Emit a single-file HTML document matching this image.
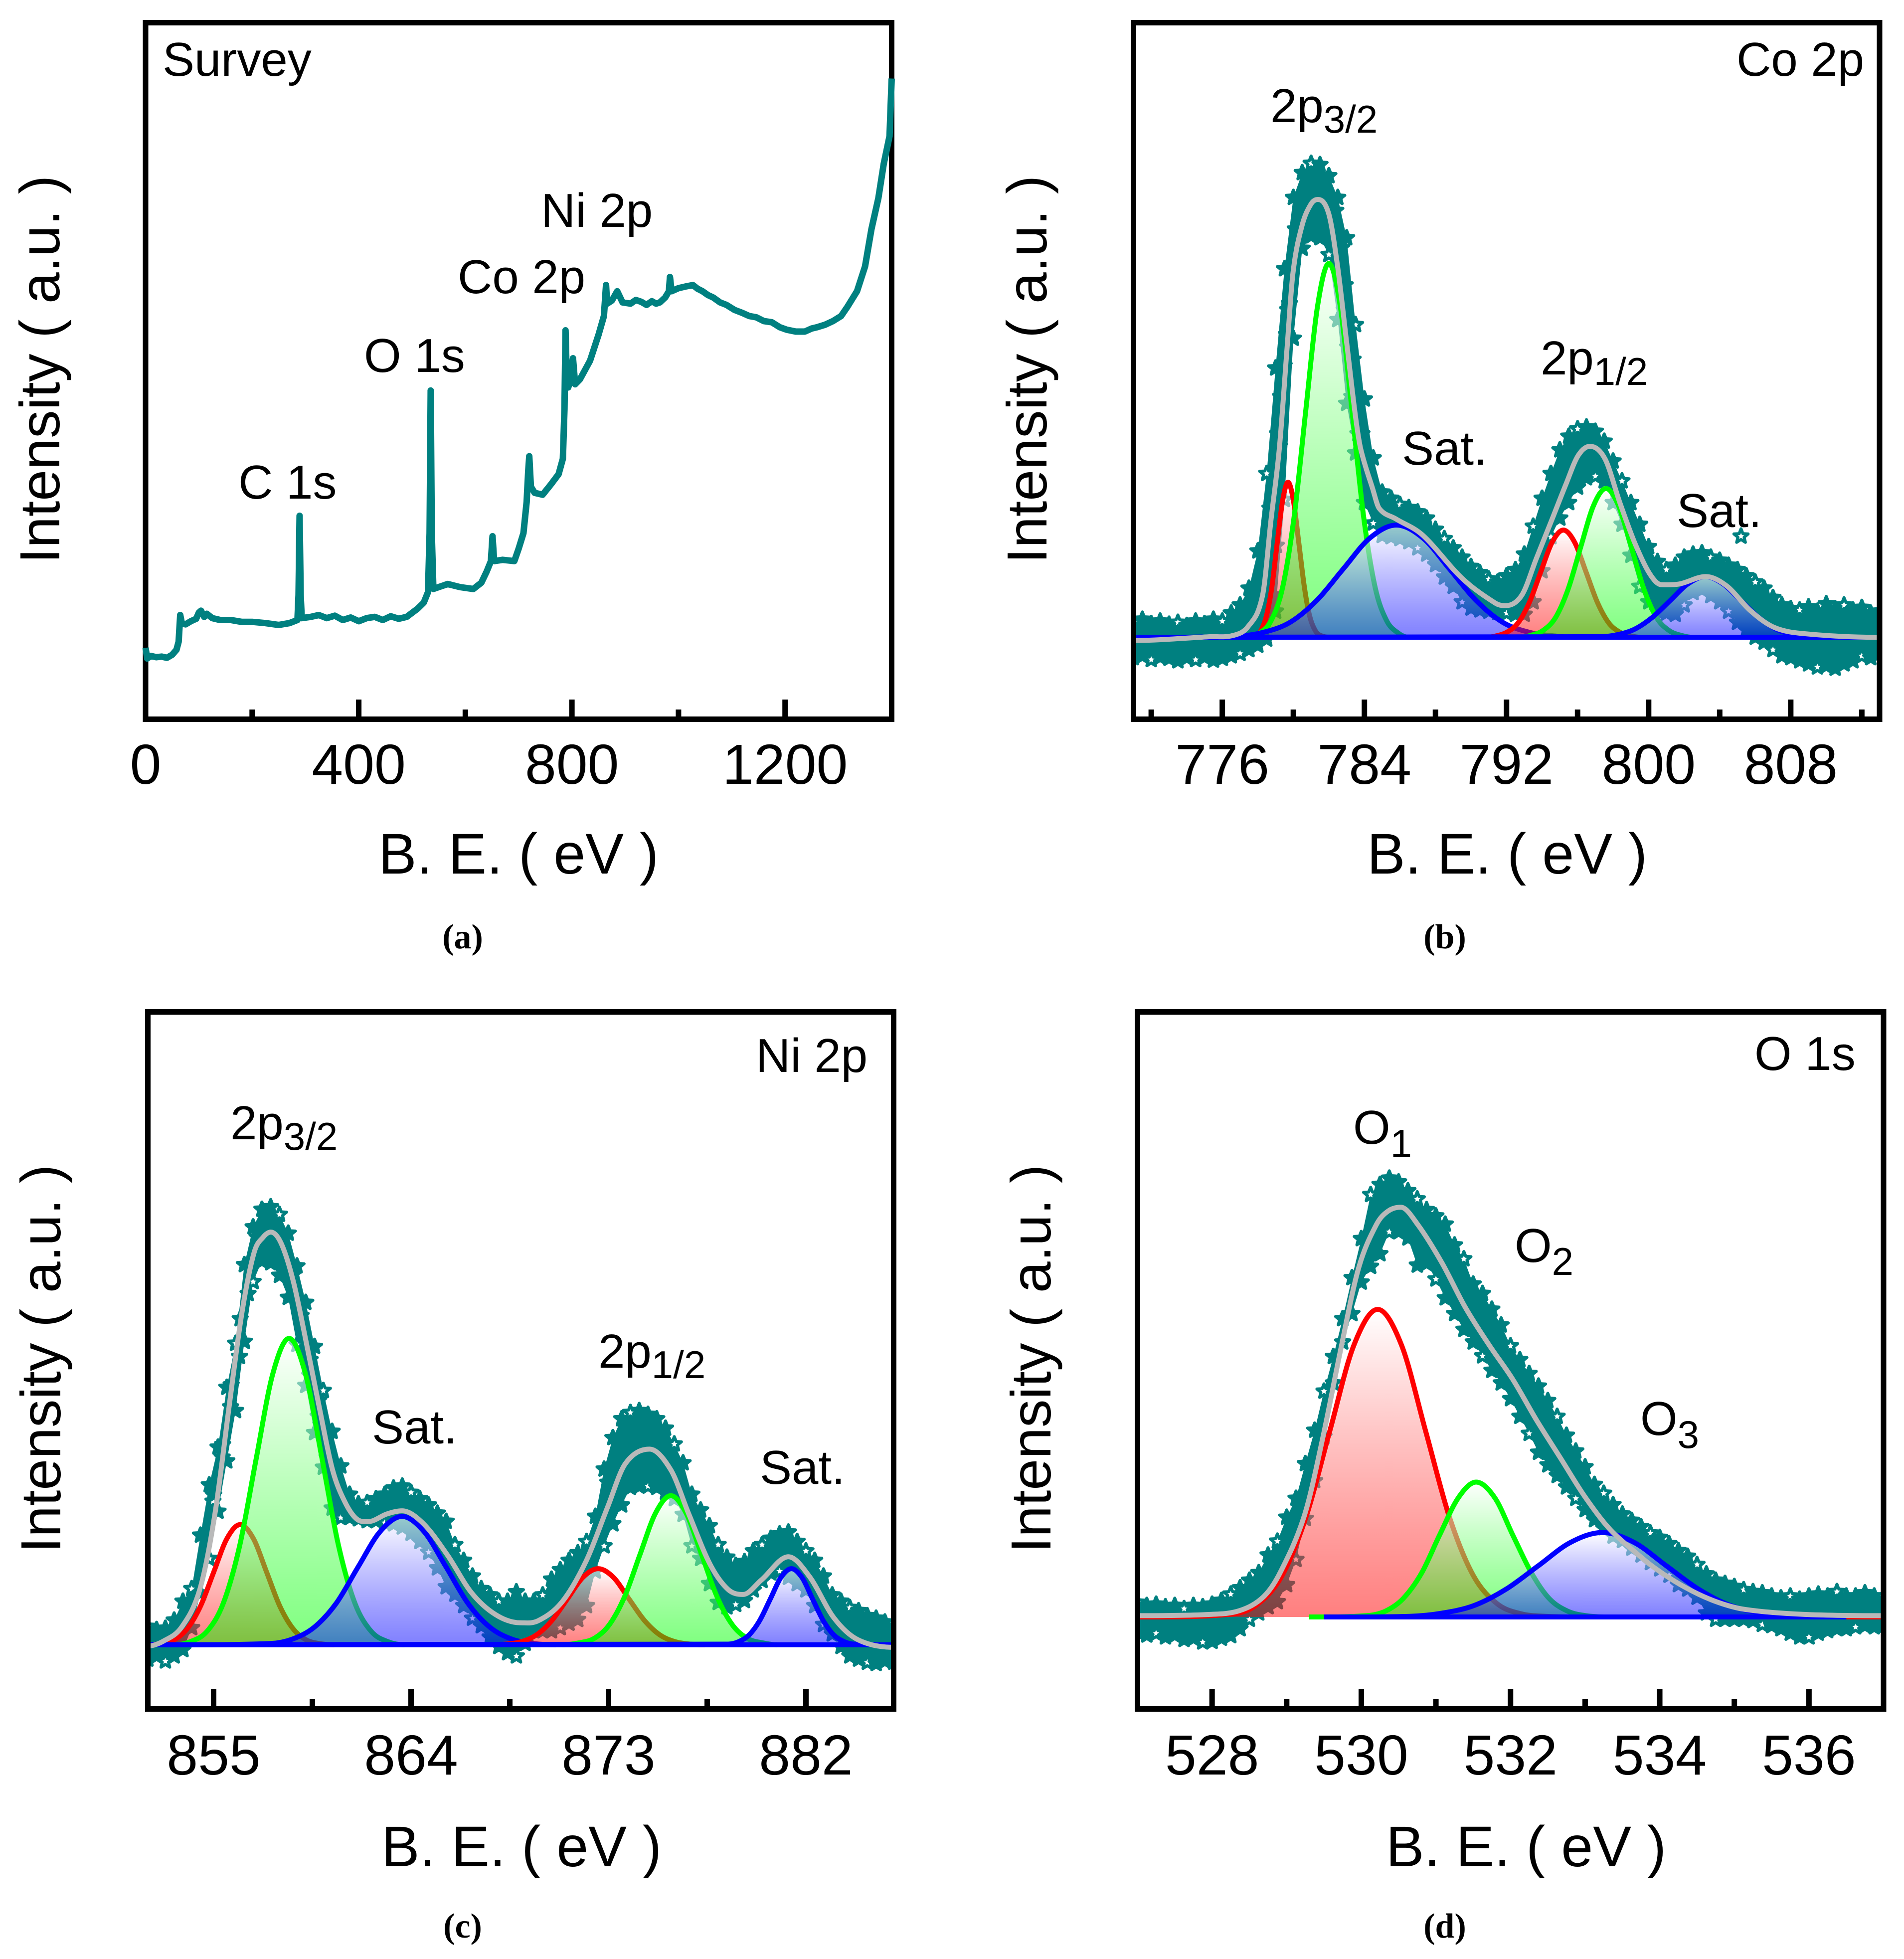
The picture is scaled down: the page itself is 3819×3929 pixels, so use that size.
<!DOCTYPE html>
<html lang="en">
<head>
<meta charset="utf-8">
<title>XPS spectra: Survey, Co 2p, Ni 2p, O 1s</title>
<style>
html,body{margin:0;padding:0;background:#fff;}
svg{display:block;}
text{font-family:"Liberation Sans",sans-serif;fill:#000;}
.tick{font-size:113px;text-anchor:middle;}
.xt{font-size:115px;text-anchor:middle;}
.yt{font-size:113px;text-anchor:middle;}
.lb{font-size:96px;}
.cap{font-family:"Liberation Serif",serif;font-size:70px;font-weight:bold;text-anchor:middle;}
</style>
</head>
<body>
<svg id="fig" xmlns="http://www.w3.org/2000/svg" width="3819" height="3929" viewBox="0 0 3819 3929">
<defs>
<linearGradient id="gradRed" x1="0" y1="0" x2="0" y2="1"><stop offset="0" stop-color="#fff" stop-opacity=".6"/><stop offset="1" stop-color="#f00" stop-opacity=".5"/></linearGradient>
<linearGradient id="gradGreen" x1="0" y1="0" x2="0" y2="1"><stop offset="0" stop-color="#fff" stop-opacity=".6"/><stop offset="1" stop-color="#0f0" stop-opacity=".5"/></linearGradient>
<linearGradient id="gradBlue" x1="0" y1="0" x2="0" y2="1"><stop offset="0" stop-color="#fff" stop-opacity=".6"/><stop offset="1" stop-color="#00f" stop-opacity=".5"/></linearGradient>
<clipPath id="clipB"><rect x="2273.5" y="45.5" width="1496.5" height="1397"/></clipPath>
<clipPath id="clipC"><rect x="296.5" y="2029.5" width="1496" height="1398"/></clipPath>
<clipPath id="clipD"><rect x="2281.5" y="2029.5" width="1496.5" height="1398"/></clipPath>
</defs>
<rect width="3819" height="3929" fill="#fff"/>

<g id="panelA"></g>
<g id="panelB"></g>
<g id="panelC"></g>
<g id="panelD"></g>

<!-- Panel a text -->
<text class="lb" x="326" y="152">Survey</text>
<text class="lb" x="478" y="1000">C 1s</text>
<text class="lb" x="730" y="746">O 1s</text>
<text class="lb" x="918" y="588">Co 2p</text>
<text class="lb" x="1085" y="455">Ni 2p</text>
<text class="xt" x="1040" y="1752">B. E. ( eV )</text>
<text class="yt" transform="translate(119 741) rotate(-90)">Intensity ( a.u. )</text>
<text class="cap" x="928" y="1902">(a)</text>

<!-- Panel b text -->
<text class="lb" x="3483" y="152">Co 2p</text>
<text class="lb" x="2548" y="245">2p<tspan font-size="78" dy="21">3/2</tspan></text>
<text class="lb" x="2812" y="932">Sat.</text>
<text class="lb" x="3090" y="751">2p<tspan font-size="78" dy="21">1/2</tspan></text>
<text class="lb" x="3363" y="1057">Sat.</text>
<text class="xt" x="3023" y="1752">B. E. ( eV )</text>
<text class="yt" transform="translate(2099 741) rotate(-90)">Intensity ( a.u. )</text>
<text class="cap" x="2898" y="1902">(b)</text>

<!-- Panel c text -->
<text class="lb" x="1516" y="2150">Ni 2p</text>
<text class="lb" x="462" y="2285">2p<tspan font-size="78" dy="21">3/2</tspan></text>
<text class="lb" x="746" y="2895">Sat.</text>
<text class="lb" x="1200" y="2743">2p<tspan font-size="78" dy="21">1/2</tspan></text>
<text class="lb" x="1524" y="2976">Sat.</text>
<text class="xt" x="1046" y="3743">B. E. ( eV )</text>
<text class="yt" transform="translate(121 2725) rotate(-90)">Intensity ( a.u. )</text>
<text class="cap" x="928" y="3886">(c)</text>

<!-- Panel d text -->
<text class="lb" x="3519" y="2146">O 1s</text>
<text class="lb" x="2714" y="2294">O<tspan font-size="78" dy="26">1</tspan></text>
<text class="lb" x="3038" y="2531">O<tspan font-size="78" dy="26">2</tspan></text>
<text class="lb" x="3290" y="2878">O<tspan font-size="78" dy="26">3</tspan></text>
<text class="xt" x="3061" y="3743">B. E. ( eV )</text>
<text class="yt" transform="translate(2107 2725) rotate(-90)">Intensity ( a.u. )</text>
<text class="cap" x="2898" y="3886">(d)</text>
</svg>

<script>
/* ---------- Panel a: survey ---------- */
const surveyMajorTicks = [0, 400, 800, 1200];
const surveyMinorTicks = [200, 600, 1000];
const surveyEV = [0,3,10,20,30,40,50,58,62,65,68,75,85,95,100,104,110,115,125,140,160,180,200,225,250,270,285,287,289,291,293,310,
  325,340,355,370,385,400,415,430,445,460,475,490,
  510,522,530,533,535,537,540,550,567,590,615,630,640,648,651,654,670,692,700,709,715,718,720,723,730,745,760,775,783,786,788,790,793,797,802,806,815,834,850,860,864,866,
  875,885,895,910,920,930,940,950,958,965,975,982,984,987,1000,1015,1027,1036,1045,1055,1065,1078,1090,1105,1120,1133,1146,1160,1175,1190,1203,1220,1237,1250,1260,1275,1290,1305,1317,1335,
  1350,1362,1375,1385,1396,1400];
const surveyIntensity = [115,98,102,100,101,99,104,112,125,168,155,153,158,162,172,175,165,170,163,160,160,157,157,155,152,155,160,200,328,200,163,165,
  168,163,167,160,164,158,163,165,160,166,162,165,
  178,188,205,300,530,300,210,213,218,213,210,220,238,255,295,255,257,255,275,300,350,400,424,375,365,362,378,395,420,500,627,560,535,545,582,540,548,578,620,650,700,670,
  675,690,672,670,676,673,668,674,670,672,680,690,713,690,695,698,700,694,690,684,680,672,668,660,655,650,648,642,640,632,628,625,625,630,632,636,642,650,665,690,
  730,790,840,895,940,1033];

/* ---------- Panel b: Co 2p ---------- */
const coMajorTicks = [776, 784, 792, 800, 808];
const coMinorTicks = [772, 780, 788, 796, 804, 812];
const coScanStart = 771;
const coScanStep = 0.5;
const coScanUpper = [156,161,154,158,153,156,151,158,154,161,158,171,184,211,271,396,566,726,841,881,896,894,876,841,776,636,516,421,366,356,346,341,334,324,306,291,276,261,246,236,226,221,231,241,266,311,356,396,434,456,468,471,464,448,416,384,349,314,278,254,241,248,261,266,268,261,256,248,241,231,221,211,196,184,178,176,181,174,186,178,184,176,180,171,174];
const coScanLower = [99,102,96,100,98,94,99,96,100,95,98,102,106,112,119,129,174,354,614,759,779,776,749,644,509,429,349,316,296,294,291,286,276,266,249,229,214,189,179,176,174,172,171,169,169,189,239,294,324,349,374,389,392,384,349,314,264,214,189,174,171,169,184,204,209,199,189,174,156,144,132,124,112,102,99,94,89,84,86,82,89,94,102,99,106];
const coExtraStarEV = [805.2,777.77,778.44,778.68,778.94,779.11,779.28,779.48,779.61,779.78,779.95,780.11,782.39,782.72,782.92,783.16,783.36,783.59,783.86,784.16,779.68,779.34,779.21,779.08,779.04,778.91,782.86,783.06,783.29,783.63,783.99];
const coExtraStarVal = [295,210,280,340,400,460,520,570,620,670,730,790,820,760,700,640,580,520,460,410,660,520,440,360,280,200,660,600,520,460,410];
const coBaseline = 132;
const coBaselineRange = [771, 813];
const coRed1EV = [777.2,777.87,778.17,778.48,778.79,779.09,779.4,779.7,780.0,780.31,780.62,780.92,781.23,781.53,782.1];
const coRed1Val = [132,135,143,166,213,284,353,382,353,284,213,166,143,135,132];
const coGreen1EV = [777.5,778.1,778.75,779.4,780.05,780.7,781.35,782,782.65,783.3,783.95,784.6,785.25,785.9,786.5];
const coGreen1Val = [132,139,159,213,328,498,664,735,664,498,328,213,159,139,132];
const coBlue1EV = [771,776.8,778.3,779.8,781.3,782.8,784.3,785.8,787.3,788.8,790.3,791.8,793.3,794.8,796];
const coBlue1Val = [132,134,140,156,191,242,292,313,292,242,191,156,140,134,132];
const coRed2EV = [790.8,791.36,792,792.64,793.28,793.92,794.56,795.2,795.84,796.48,797.12,797.76,798.4,799.04,799.6];
const coRed2Val = [132,134,140,155,188,237,285,305,285,237,188,155,140,134,132];
const coGreen2EV = [792.7,793.34,794.05,794.76,795.47,796.18,796.89,797.6,798.31,799.02,799.73,800.44,801.15,801.86,802.5];
const coGreen2Val = [132,135,143,164,210,278,344,372,344,278,210,164,143,135,132];
const coBlue2EV = [771,797.2,798.2,799.2,800.2,801.2,802.2,803.2,804.2,805.2,806.2,807.2,808.2,809.2,813];
const coBlue2Val = [132,133,136,145,164,191,218,230,218,191,164,145,136,133,132];
const coEnvelopeEV = [771,775.3,776.6,777.47,778.27,778.74,779.21,779.65,779.98,780.48,780.98,781.38,781.99,782.49,782.99,783.49,783.79,784.46,784.83,785.77,787.27,789.51,791.38,791.92,792.86,793.69,794.53,795.36,796.03,796.7,797.54,798.37,799.21,800.05,800.72,801.72,803.22,804.39,805.73,807.07,808.74,813];
const coEnvelopeVal = [127,133,135,150,200,321,436,600,720,795,830,838,815,730,610,490,436,372,340,323,297,227,187,183,200,260,320,380,425,440,420,350,285,235,217,218,230,215,175,148,138,132];

/* ---------- Panel c: Ni 2p ---------- */
const niMajorTicks = [855, 864, 873, 882];
const niMinorTicks = [859.5, 868.5, 877.5];
const niScanStart = 852;
const niScanStep = 0.4;
const niScanUpper = [131,126,128,141,171,191,276,356,416,511,581,706,766,794,798,786,756,704,646,576,506,441,386,341,326,328,334,341,351,354,344,334,324,311,298,261,236,211,191,181,171,171,186,171,171,181,206,221,236,248,266,306,381,431,461,471,474,468,461,446,421,391,341,316,291,261,241,228,234,251,261,271,278,281,266,251,236,211,181,171,161,156,148,144,138,136];
const niScanLower = [79,84,76,84,94,129,184,239,314,394,474,584,679,712,709,689,654,579,514,439,384,319,304,304,302,299,299,296,294,289,279,266,249,224,194,182,164,144,132,114,99,89,84,104,124,124,124,129,136,142,164,219,259,294,324,352,354,354,352,344,334,309,259,239,199,169,162,166,172,189,204,216,219,209,199,189,164,134,119,99,84,79,74,72,76,74];
const niExtraStarEV = [854.97,855.39,855.77,856.18,856.57,856.98,858.61,858.99,859.4,859.79,860.2,855,855.41,855.8,856.21,859.38,859.76,860.17,872.97];
const niExtraStarVal = [330,400,480,560,660,750,690,625,555,490,430,340,420,515,620,530,465,400,360];
const niBaseline = 102;
const niBaselineRange = [852, 886];
const niRed1EV = [852,852.61,853.21,853.81,854.41,855.01,855.61,856.21,856.81,857.41,858.01,858.61,859.21,859.81,860.5];
const niRed1Val = [102,104,110,128,164,218,271,293,271,218,164,128,110,104,102];
const niGreen1EV = [853.2,853.94,854.69,855.44,856.19,856.94,857.69,858.44,859.19,859.94,860.69,861.44,862.19,862.94,863.7];
const niGreen1Val = [102,107,123,168,260,398,532,589,532,398,260,168,123,107,102];
const niBlue1EV = [852,857.59,858.59,859.59,860.59,861.59,862.59,863.59,864.59,865.59,866.59,867.59,868.59,869.59,870.6];
const niBlue1Val = [102,104,111,130,168,226,282,306,282,226,168,130,111,104,102];
const niRed2EV = [867.6,868.33,869.03,869.73,870.43,871.13,871.83,872.53,873.23,873.93,874.63,875.33,876.03,876.73,877.4];
const niRed2Val = [102,103,107,118,141,175,209,223,209,175,141,118,107,103,102];
const niGreen2EV = [870.9,871.64,872.34,873.04,873.74,874.44,875.14,875.84,876.54,877.24,877.94,878.64,879.34,880.04,880.7];
const niGreen2Val = [102,105,112,134,179,246,311,339,311,246,179,134,112,105,102];
const niBlue2EV = [852,878.46,878.94,879.42,879.9,880.38,880.86,881.34,881.82,882.3,882.78,883.26,883.74,884.22,886];
const niBlue2Val = [102,103,107,118,141,175,209,223,209,175,141,118,107,103,102];
const niEnvelopeEV = [852,852.72,853.54,854.37,855.06,855.74,856.29,856.84,857.26,857.61,858.08,858.63,859.18,859.87,860.42,860.97,861.52,862.07,862.9,863.59,864.55,865.65,866.75,867.85,868.96,869.78,870.88,871.98,872.95,873.77,874.87,875.84,876.66,877.63,878.45,879.14,879.97,881.2,882.17,883.27,884.37,886];
const niEnvelopeVal = [100,108,130,190,310,490,630,725,750,758,740,680,590,470,380,330,302,298,310,315,295,245,185,150,137,140,170,235,320,390,413,380,310,230,190,182,205,242,210,145,110,98];

/* ---------- Panel d: O 1s ---------- */
const oMajorTicks = [528, 530, 532, 534, 536];
const oMinorTicks = [529, 531, 533, 535];
const oScanStart = 527;
const oScanStep = 0.125;
const oScanUpper = [169,164,166,162,164,159,164,162,166,172,182,192,204,216,244,266,304,334,389,442,504,559,619,684,746,816,832,842,836,822,809,792,782,769,736,714,674,659,634,609,576,554,532,512,489,464,434,409,384,356,342,324,309,299,289,279,272,262,251,242,229,214,204,199,194,189,186,184,179,176,179,174,179,182,179,186,179,179,184,179,179];
const oScanLower = [122,117,120,114,117,110,112,106,107,112,116,127,142,152,162,170,197,237,302,362,432,517,582,627,677,702,722,757,757,747,704,707,682,652,627,602,582,560,537,517,492,464,437,407,387,370,352,334,316,300,287,274,267,255,244,232,222,212,197,190,177,152,142,142,142,142,140,134,132,127,120,114,114,120,124,127,127,130,132,130,132];
const oExtraStarEV = [];
const oExtraStarVal = [];
const oBaseline = 146;
const oBaselineRange = [529.5, 536.5];
const oRedEV = [527,528.3,528.62,528.94,529.26,529.58,529.9,530.22,530.54,530.86,531.18,531.5,531.82,532.14,532.46,533,537];
const oRedVal = [146,151,167,212,305,442,577,634,577,442,305,212,167,151,147,146,146];
const oGreenEV = [529.3,530.07,530.32,530.56,530.81,531.05,531.3,531.54,531.79,532.03,532.28,532.52,532.77,533.01,533.3];
const oGreenVal = [146,148,155,175,216,276,335,360,335,276,216,175,155,148,146];
const oBlueEV = [529.5,530.65,531.08,531.51,531.94,532.37,532.8,533.23,533.66,534.09,534.52,534.95,535.38,535.81,536.5];
const oBlueVal = [146,147,152,164,190,227,264,280,264,227,190,164,152,147,146];
const oEnvelopeEV = [527,527.97,528.37,528.69,528.92,529.24,529.48,529.72,529.96,530.2,530.36,530.53,530.76,531.08,531.39,531.71,532.03,532.35,532.67,532.99,533.31,533.63,533.94,534.34,534.74,535.14,535.94,537];
const oEnvelopeVal = [148,150,156,178,218,308,428,568,698,768,790,796,768,708,638,578,523,458,398,338,288,253,223,193,171,158,150,148];

/* ---------- Helpers ---------- */
const NS = 'http://www.w3.org/2000/svg';
const TEAL = '#008080';
const GRAY = '#b9b9b9';

function make(tag, parent, attrs) {
  const node = document.createElementNS(NS, tag);
  for (const key in attrs) node.setAttribute(key, attrs[key]);
  parent.appendChild(node);
  return node;
}
function scale(d0, d1, r0, r1) {
  return function (v) { return r0 + (v - d0) * (r1 - r0) / (d1 - d0); };
}
/* piecewise cubic that stays a function of x */
function smooth(xs, ys, xScale, yScale) {
  const px = xs.map(xScale), py = ys.map(yScale), n = px.length, m = [];
  for (let i = 0; i < n; i++) {
    const a = Math.max(i - 1, 0), b = Math.min(i + 1, n - 1);
    const left = i > 0 ? (py[i] - py[i - 1]) / (px[i] - px[i - 1]) : 0;
    const right = i < n - 1 ? (py[i + 1] - py[i]) / (px[i + 1] - px[i]) : 0;
    m.push(left * right <= 0 ? 0 : (py[b] - py[a]) / (px[b] - px[a]));
  }
  let d = 'M' + px[0].toFixed(1) + ' ' + py[0].toFixed(1);
  for (let i = 0; i < n - 1; i++) {
    const h = (px[i + 1] - px[i]) / 3;
    d += 'C' + (px[i] + h).toFixed(1) + ' ' + (py[i] + m[i] * h).toFixed(1) + ' ' +
      (px[i + 1] - h).toFixed(1) + ' ' + (py[i + 1] - m[i + 1] * h).toFixed(1) + ' ' +
      px[i + 1].toFixed(1) + ' ' + py[i + 1].toFixed(1);
  }
  return d;
}
function starPath(cx, cy) {
  const R = 15, r = 6.5;
  let d = '';
  for (let i = 0; i < 10; i++) {
    const rad = i % 2 ? r : R, ang = -Math.PI / 2 + i * Math.PI / 5;
    d += (i ? 'L' : 'M') + (cx + rad * Math.cos(ang)).toFixed(1) + ' ' + (cy + rad * Math.sin(ang)).toFixed(1);
  }
  return d + 'Z';
}
function drawTicks(parent, values, xScale, bottom, length) {
  values.forEach(function (v) {
    const tick = make('line', parent, { x1: xScale(v), x2: xScale(v), y1: bottom, y2: bottom - length, stroke: '#000', 'stroke-width': 11 });
    
    
  });
}
function drawTickLabels(parent, values, xScale, baseline) {
  values.forEach(function (v) {
    const label = make('text', parent, { class: 'tick', x: xScale(v), y: baseline });
    label.textContent = String(v);
    
    
  });
}
function drawFrame(parent, x0, y0, x1, y1) {
  const frame = make('rect', parent, { x: x0, y: y0, width: x1 - x0, height: y1 - y0, fill: 'none', stroke: '#000', 'stroke-width': 11 });
  
  
}
function drawScan(parent, start, step, upper, lower, extraEV, extraVal, xScale, yScale) {
  let d = '';
  upper.forEach(function (v, i) { d += (i ? 'L' : 'M') + xScale(start + i * step).toFixed(1) + ' ' + yScale(v).toFixed(1); });
  for (let i = lower.length - 1; i >= 0; i--) d += 'L' + xScale(start + i * step).toFixed(1) + ' ' + yScale(lower[i]).toFixed(1);
  const band = make('path', parent, { d: d + 'Z', fill: TEAL });
  
  
  upper.forEach(function (v, i) { drawStar(parent, start + i * step, v, i % 5 === 0, xScale, yScale); });
  lower.forEach(function (v, i) { drawStar(parent, start + i * step, v, i % 5 === 2, xScale, yScale); });
  extraEV.forEach(function (v, i) { drawStar(parent, v, extraVal[i], i === 0, xScale, yScale); });
}
function drawStar(parent, ev, val, hollow, xScale, yScale) {
  const star = make('path', parent, { d: starPath(xScale(ev), yScale(val)), fill: hollow ? '#fff' : TEAL, stroke: TEAL, 'stroke-width': 6, 'stroke-linejoin': 'round' });
  
  
}
function drawComponent(parent, xs, ys, base, color, grad, name, xScale, yScale) {
  const line = smooth(xs, ys, xScale, yScale);
  const area = line + 'L' + xScale(xs[xs.length - 1]).toFixed(1) + ' ' + yScale(base).toFixed(1) + 'L' + xScale(xs[0]).toFixed(1) + ' ' + yScale(base).toFixed(1) + 'Z';
  const fill = make('path', parent, { d: area, fill: 'url(#' + grad + ')' });
  
  
  const stroke = make('path', parent, { d: line, fill: 'none', stroke: color, 'stroke-width': 10, 'stroke-linejoin': 'round' });
  
  
}
function drawBaseline(parent, range, base, xScale, yScale) {
  const line = make('line', parent, { x1: xScale(range[0]), x2: xScale(range[1]), y1: yScale(base), y2: yScale(base), stroke: '#00f', 'stroke-width': 10 });
  
  
}
function drawEnvelope(parent, xs, ys, xScale, yScale) {
  const env = make('path', parent, { d: smooth(xs, ys, xScale, yScale), fill: 'none', stroke: GRAY, 'stroke-width': 10, 'stroke-linejoin': 'round' });
  
  
}

/* ---------- Panel a ---------- */
(function () {
  const g = document.getElementById('panelA');
  const x = scale(0, 1400, 292, 1788.5), y = scale(0, 1123, 1442.5, 45.5);
  drawFrame(g, 292, 45.5, 1788.5, 1442.5);
  drawTicks(g, surveyMajorTicks, x, 1437, 34);
  drawTicks(g, surveyMinorTicks, x, 1437, 14);
  drawTickLabels(g, surveyMajorTicks, x, 1572);
  let d = '';
  surveyEV.forEach(function (v, i) { d += (i ? 'L' : 'M') + x(v).toFixed(1) + ' ' + y(surveyIntensity[i]).toFixed(1); });
  const line = make('path', g, { d: d, fill: 'none', stroke: TEAL, 'stroke-width': 13, 'stroke-linejoin': 'round' });
  
  
})();

/* ---------- Panel b ---------- */
(function () {
  const g = document.getElementById('panelB');
  const x = scale(771, 813, 2273.5, 3770), y = scale(0, 1123, 1442.5, 45.5);
  const plot = make('g', g, { 'clip-path': 'url(#clipB)' });
  drawScan(plot, coScanStart, coScanStep, coScanUpper, coScanLower, coExtraStarEV, coExtraStarVal, x, y);
  drawComponent(plot, coRed1EV, coRed1Val, coBaseline, '#f00', 'gradRed', 'co-red-peak-1', x, y);
  drawComponent(plot, coGreen1EV, coGreen1Val, coBaseline, '#0f0', 'gradGreen', 'co-green-peak-1', x, y);
  drawComponent(plot, coBlue1EV, coBlue1Val, coBaseline, '#00f', 'gradBlue', 'co-blue-peak-1', x, y);
  drawComponent(plot, coRed2EV, coRed2Val, coBaseline, '#f00', 'gradRed', 'co-red-peak-2', x, y);
  drawComponent(plot, coGreen2EV, coGreen2Val, coBaseline, '#0f0', 'gradGreen', 'co-green-peak-2', x, y);
  drawComponent(plot, coBlue2EV, coBlue2Val, coBaseline, '#00f', 'gradBlue', 'co-blue-peak-2', x, y);
  drawBaseline(plot, coBaselineRange, coBaseline, x, y);
  drawEnvelope(plot, coEnvelopeEV, coEnvelopeVal, x, y);
  drawFrame(g, 2273.5, 45.5, 3770, 1442.5);
  drawTicks(g, coMajorTicks, x, 1437, 34);
  drawTicks(g, coMinorTicks, x, 1437, 14);
  drawTickLabels(g, coMajorTicks, x, 1572);
})();

/* ---------- Panel c ---------- */
(function () {
  const g = document.getElementById('panelC');
  const x = scale(852, 886, 296.5, 1792.5), y = scale(0, 1108, 3427.5, 2029.5);
  const plot = make('g', g, { 'clip-path': 'url(#clipC)' });
  drawScan(plot, niScanStart, niScanStep, niScanUpper, niScanLower, niExtraStarEV, niExtraStarVal, x, y);
  drawComponent(plot, niRed1EV, niRed1Val, niBaseline, '#f00', 'gradRed', 'ni-red-peak-1', x, y);
  drawComponent(plot, niGreen1EV, niGreen1Val, niBaseline, '#0f0', 'gradGreen', 'ni-green-peak-1', x, y);
  drawComponent(plot, niBlue1EV, niBlue1Val, niBaseline, '#00f', 'gradBlue', 'ni-blue-peak-1', x, y);
  drawComponent(plot, niRed2EV, niRed2Val, niBaseline, '#f00', 'gradRed', 'ni-red-peak-2', x, y);
  drawComponent(plot, niGreen2EV, niGreen2Val, niBaseline, '#0f0', 'gradGreen', 'ni-green-peak-2', x, y);
  drawComponent(plot, niBlue2EV, niBlue2Val, niBaseline, '#00f', 'gradBlue', 'ni-blue-peak-2', x, y);
  drawBaseline(plot, niBaselineRange, niBaseline, x, y);
  drawEnvelope(plot, niEnvelopeEV, niEnvelopeVal, x, y);
  drawFrame(g, 296.5, 2029.5, 1792.5, 3427.5);
  drawTicks(g, niMajorTicks, x, 3422, 34);
  drawTicks(g, niMinorTicks, x, 3422, 14);
  drawTickLabels(g, niMajorTicks, x, 3559);
})();

/* ---------- Panel d ---------- */
(function () {
  const g = document.getElementById('panelD');
  const x = scale(527, 537, 2281.5, 3778), y = scale(0, 1106, 3427.5, 2029.5);
  const plot = make('g', g, { 'clip-path': 'url(#clipD)' });
  drawScan(plot, oScanStart, oScanStep, oScanUpper, oScanLower, oExtraStarEV, oExtraStarVal, x, y);
  drawComponent(plot, oRedEV, oRedVal, oBaseline, '#f00', 'gradRed', 'o1-red-peak', x, y);
  drawComponent(plot, oGreenEV, oGreenVal, oBaseline, '#0f0', 'gradGreen', 'o2-green-peak', x, y);
  drawComponent(plot, oBlueEV, oBlueVal, oBaseline, '#00f', 'gradBlue', 'o3-blue-peak', x, y);
  drawBaseline(plot, oBaselineRange, oBaseline, x, y);
  drawEnvelope(plot, oEnvelopeEV, oEnvelopeVal, x, y);
  drawFrame(g, 2281.5, 2029.5, 3778, 3427.5);
  drawTicks(g, oMajorTicks, x, 3422, 34);
  drawTicks(g, oMinorTicks, x, 3422, 14);
  drawTickLabels(g, oMajorTicks, x, 3559);
})();
</script>
</body>
</html>
